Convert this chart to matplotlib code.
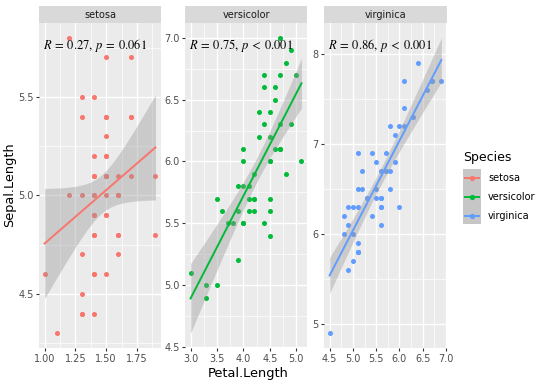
import numpy as np
import matplotlib
matplotlib.use("Agg")
import matplotlib.pyplot as plt
from matplotlib.ticker import FixedLocator, FormatStrFormatter
from matplotlib.patches import Rectangle
from matplotlib.lines import Line2D

plt.rcParams['mathtext.fontset'] = 'stix'

species = ["setosa", "versicolor", "virginica"]
colors = ["#F8766D", "#00BA38", "#619CFF"]

setosa_petal = [1.4,1.4,1.3,1.5,1.4,1.7,1.4,1.5,1.4,1.5,1.5,1.6,1.4,1.1,1.2,1.5,1.3,1.4,1.7,1.5,
                1.7,1.5,1.0,1.7,1.9,1.6,1.6,1.5,1.4,1.6,1.6,1.5,1.5,1.4,1.5,1.2,1.3,1.4,1.3,1.5,
                1.3,1.3,1.3,1.6,1.9,1.4,1.6,1.4,1.5,1.4]
setosa_sepal = [5.1,4.9,4.7,4.6,5.0,5.4,4.6,5.0,4.4,4.9,5.4,4.8,4.8,4.3,5.8,5.7,5.4,5.1,5.7,5.1,
                5.4,5.1,4.6,5.1,4.8,5.0,5.0,5.2,5.2,4.7,4.8,5.4,5.2,5.5,4.9,5.0,5.5,4.9,4.4,5.1,
                5.0,4.5,4.4,5.0,5.1,4.8,5.1,4.6,5.3,5.0]
versicolor_petal = [4.7,4.5,4.9,4.0,4.6,4.5,4.7,3.3,4.6,3.9,3.5,4.2,4.0,4.7,3.6,4.4,4.5,4.1,4.5,3.9,
                    4.8,4.0,4.9,4.7,4.3,4.4,4.8,5.0,4.5,3.5,3.8,3.7,3.9,5.1,4.5,4.5,4.7,4.4,4.1,4.0,
                    4.4,4.6,4.0,3.3,4.2,4.2,4.2,4.3,3.0,4.1]
versicolor_sepal = [7.0,6.4,6.9,5.5,6.5,5.7,6.3,4.9,6.6,5.2,5.0,5.9,6.0,6.1,5.6,6.7,5.6,5.8,6.2,5.6,
                    5.9,6.1,6.3,6.1,6.4,6.6,6.8,6.7,6.0,5.7,5.5,5.5,5.8,6.0,5.4,6.0,6.7,6.3,5.6,5.5,
                    5.5,6.1,5.8,5.0,5.6,5.7,5.7,6.2,5.1,5.7]
virginica_petal = [6.0,5.1,5.9,5.6,5.8,6.6,4.5,6.3,5.8,6.1,5.1,5.3,5.5,5.0,5.1,5.3,5.5,6.7,6.9,5.0,
                   5.7,4.9,6.7,4.9,5.7,6.0,4.8,4.9,5.6,5.8,6.1,6.4,5.6,5.1,5.6,6.1,5.6,5.5,4.8,5.4,
                   5.6,5.1,5.1,5.9,5.7,5.2,5.0,5.2,5.4,5.1]
virginica_sepal = [6.3,5.8,7.1,6.3,6.5,7.6,4.9,7.3,6.7,7.2,6.5,6.4,6.8,5.7,5.8,6.4,6.5,7.7,7.7,6.0,
                   6.9,5.6,7.7,6.3,6.7,7.2,6.2,6.1,6.4,7.2,7.4,7.9,6.4,6.3,6.1,7.7,6.3,6.4,6.0,6.9,
                   6.7,6.9,5.8,6.8,6.7,6.7,6.3,6.5,6.2,5.9]

p_relation = ["=", "<", "<"]
p_values = ["0.061", "0.001", "0.001"]

x_ticks = [[1.00, 1.25, 1.50, 1.75], [3.0, 3.5, 4.0, 4.5, 5.0], [4.5, 5.0, 5.5, 6.0, 6.5, 7.0]]
y_ticks = [[4.5, 5.0, 5.5], [4.5, 5.0, 5.5, 6.0, 6.5, 7.0], [5, 6, 7, 8]]
x_fmt = ["%.2f", "%.1f", "%.1f"]
y_fmt = ["%.1f", "%.1f", "%d"]

xs = [setosa_petal, versicolor_petal, virginica_petal]
ys = [setosa_sepal, versicolor_sepal, virginica_sepal]

W, H = 540, 386
fig = plt.figure(figsize=(W / 100, H / 100), dpi=100)

panel_px = [(39, 161), (185, 307), (324, 447)]
top_px, bot_px, strip_top = 23, 348, 6
T_CRIT = 2.0106  # t(0.975, df=48)

for i in range(3):
    x = np.array(xs[i]); y = np.array(ys[i])
    l, r = panel_px[i]
    ax = fig.add_axes([l / W, 1 - bot_px / H, (r - l) / W, (bot_px - top_px) / H])
    ax.set_facecolor("#EBEBEB")
    for s in ax.spines.values():
        s.set_visible(False)
    ax.scatter(x, y, s=13, color=colors[i], zorder=2, linewidths=0)
    n = len(x)
    b, a = np.polyfit(x, y, 1)
    resid = y - (a + b * x)
    sig = np.sqrt(np.sum(resid ** 2) / (n - 2))
    sxx = np.sum((x - x.mean()) ** 2)
    gx = np.linspace(x.min(), x.max(), 80)
    gy = a + b * gx
    se = sig * np.sqrt(1 / n + (gx - x.mean()) ** 2 / sxx)
    ax.fill_between(gx, gy - T_CRIT * se, gy + T_CRIT * se, color="#999999", alpha=0.4,
                    linewidth=0, zorder=3)
    ax.plot(gx, gy, color=colors[i], lw=1.4, zorder=4)
    ax.margins(x=0.05, y=0.05)
    ax.xaxis.set_major_locator(FixedLocator(x_ticks[i]))
    ax.yaxis.set_major_locator(FixedLocator(y_ticks[i]))
    xt = x_ticks[i]; yt = y_ticks[i]
    dx = xt[1] - xt[0]; dy = yt[1] - yt[0]
    ax.xaxis.set_minor_locator(FixedLocator(np.arange(xt[0] - dx / 2, xt[-1] + dx, dx)))
    ax.yaxis.set_minor_locator(FixedLocator(np.arange(yt[0] - dy / 2, yt[-1] + dy, dy)))
    ax.xaxis.set_major_formatter(FormatStrFormatter(x_fmt[i]))
    ax.yaxis.set_major_formatter(FormatStrFormatter(y_fmt[i]))
    ax.grid(which="major", color="white", lw=1.0, zorder=0)
    ax.grid(which="minor", color="white", lw=0.5, zorder=0)
    ax.set_axisbelow(True)
    ax.tick_params(which="major", length=2.5, width=0.8, color="#333333", labelsize=7,
                   labelcolor="#4D4D4D", pad=1.5)
    ax.tick_params(which="minor", length=0)
    rr = np.corrcoef(x, y)[0, 1]
    label = r"$R\:=\:%.2f,\:p\:%s\:%s$" % (rr, p_relation[i], p_values[i])
    ax.text(0.035, 0.93, label, transform=ax.transAxes, fontsize=9, va="center", ha="left",
            zorder=5)
    # strip
    sax = fig.add_axes([l / W, 1 - top_px / H, (r - l) / W, (top_px - strip_top) / H])
    sax.set_facecolor("#D9D9D9")
    sax.set_xticks([]); sax.set_yticks([])
    for s in sax.spines.values():
        s.set_visible(False)
    sax.text(0.5, 0.5, species[i], ha="center", va="center", fontsize=7, color="#1A1A1A",
             transform=sax.transAxes)

fig.text(10 / W, 1 - 185 / H, "Sepal.Length", rotation=90, ha="center", va="center",
         fontsize=9.3, color="black")
fig.text(248 / W, 1 - 374 / H, "Petal.Length", ha="center", va="center", fontsize=9.3,
         color="black")

# legend
fig.text(463 / W, 1 - 157 / H, "Species", ha="left", va="center", fontsize=9)
fig.add_artist(Rectangle((463 / W, 1 - 224 / H), 18 / W, 55 / H, transform=fig.transFigure,
                         facecolor="#C6C6C6", edgecolor="none"))
key_y = [178, 197, 216]
for i in range(3):
    yy = 1 - key_y[i] / H
    fig.add_artist(Line2D([465 / W, 479 / W], [yy, yy], transform=fig.transFigure,
                          color=colors[i], lw=1.4))
    fig.add_artist(Line2D([472 / W], [yy], transform=fig.transFigure, marker="o",
                          markersize=3.8, color=colors[i], markeredgewidth=0))
    fig.text(488 / W, yy, species[i], ha="left", va="center", fontsize=7, color="black")

fig.savefig("out.png", dpi=100)
